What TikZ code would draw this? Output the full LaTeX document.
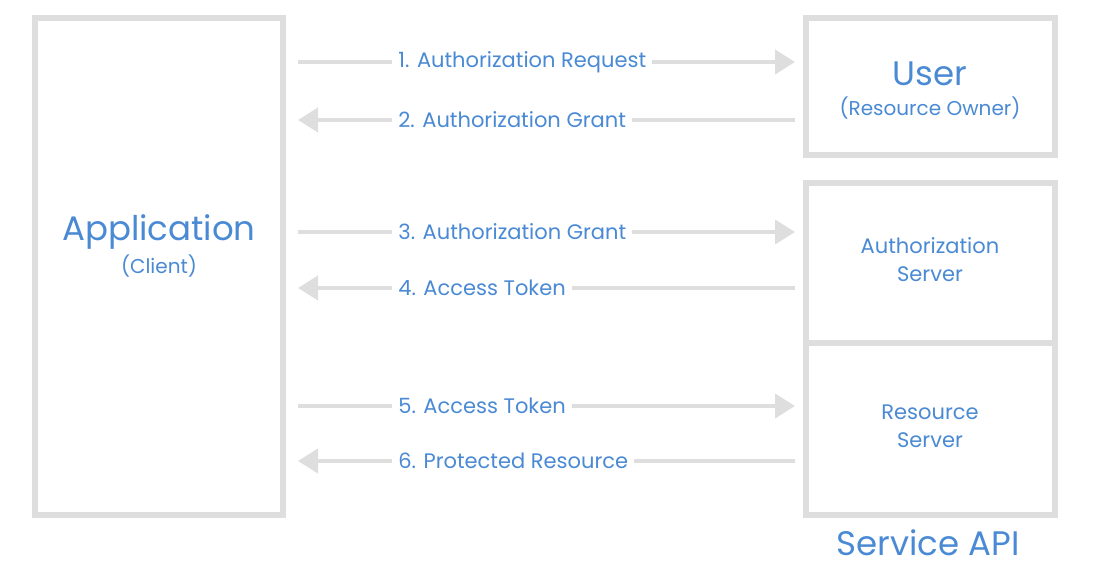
\documentclass[tikz,border=0pt]{standalone}
\usepackage{fontspec}
\setmainfont{Poppins}
\usetikzlibrary{arrows.meta}
\definecolor{boxgray}{HTML}{DEDEDE}
\definecolor{txtblue}{HTML}{4A8AD4}
\tikzset{
  pane/.style={draw=boxgray, line width=3pt, fill=white},
  flow/.style={draw=boxgray, line width=2pt, -{Triangle[width=12pt,length=10pt]}},
  lbl/.style={fill=white, text=txtblue, font=\fontsize{10.5}{13}\selectfont, inner sep=3pt}
}
\begin{document}
\begin{tikzpicture}[x=0.5pt, y=-0.5pt]
    \useasboundingbox (0,0) rectangle (1098,572);
    % boxes
    \draw[pane] (35,18) rectangle (283,515);
    \draw[pane] (806,18) rectangle (1055,155);
    \draw[pane] (806,183) rectangle (1055,515);
    \draw[pane] (806,343) -- (1055,343);
    \node[text=txtblue, font=\fontsize{17}{20}\selectfont] (app) at (159,232) {Application};
    \node[text=txtblue, font=\fontsize{10}{12}\selectfont] (cli) at (159,266) {(Client)};
    \node[text=txtblue, font=\fontsize{17}{20}\selectfont] (usr) at (930,74) {User};
    \node[text=txtblue, font=\fontsize{10}{12}\selectfont] (own) at (930,108) {(Resource Owner)};
    \node[text=txtblue, font=\fontsize{10.5}{14}\selectfont, align=center] (auth) at (930,260) {Authorization\\Server};
    \node[text=txtblue, font=\fontsize{10.5}{14}\selectfont, align=center] (res) at (930,426) {Resource\\Server};
    \node[text=txtblue, font=\fontsize{17}{20}\selectfont] (api) at (928,543) {Service API};
    % arrows
    \coordinate (l1) at (298,62);  \coordinate (r1) at (795,62);
    \coordinate (l2) at (298,120); \coordinate (r2) at (795,120);
    \coordinate (l3) at (298,232); \coordinate (r3) at (795,232);
    \coordinate (l4) at (298,288); \coordinate (r4) at (795,288);
    \coordinate (l5) at (298,406); \coordinate (r5) at (795,406);
    \coordinate (l6) at (298,461); \coordinate (r6) at (795,461);
    \draw[flow] (l1) -- (r1);
    \draw[flow] (r2) -- (l2);
    \draw[flow] (l3) -- (r3);
    \draw[flow] (r4) -- (l4);
    \draw[flow] (l5) -- (r5);
    \draw[flow] (r6) -- (l6);
    \node[lbl, anchor=west] (t1) at (392,62) {1. Authorization Request};
    \node[lbl, anchor=west] (t2) at (392,120) {2. Authorization Grant};
    \node[lbl, anchor=west] (t3) at (392,232) {3. Authorization Grant};
    \node[lbl, anchor=west] (t4) at (392,288) {4. Access Token};
    \node[lbl, anchor=west] (t5) at (392,406) {5. Access Token};
    \node[lbl, anchor=west] (t6) at (392,461) {6. Protected Resource};
\end{tikzpicture}
\end{document}
